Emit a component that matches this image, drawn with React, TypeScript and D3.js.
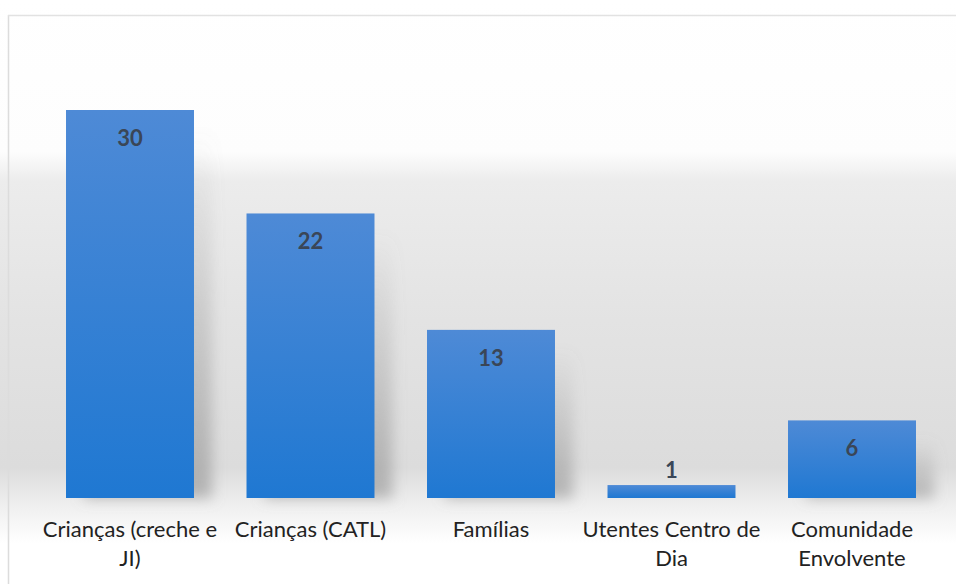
import React from 'react';
import * as d3 from 'd3';

const categories = ['Crianças (creche e JI)', 'Crianças (CATL)', 'Famílias', 'Utentes Centro de Dia', 'Comunidade Envolvente'];
const labelLines = [['Crianças (creche e', 'JI)'], ['Crianças (CATL)'], ['Famílias'], ['Utentes Centro de', 'Dia'], ['Comunidade', 'Envolvente']];
const values = [30, 22, 13, 1, 6];

const W = 956;
const H = 584;
const FONT = 'Lato, "Open Sans", sans-serif';

export default function App() {
  const x = d3.scaleBand<string>()
    .domain(categories)
    .range([39.75, 942.25])
    .paddingInner(0.291)
    .paddingOuter(0.1455);
  const y = d3.scaleLinear().domain([0, 30]).range([498, 110]);
  const bw = x.bandwidth();

  return (
    <svg width={W} height={H} style={{position: 'absolute', left: 0, top: 0}}>
      <defs>
        <linearGradient id="bg" x1="0" y1="0" x2="0" y2="1">
          <stop offset="0" stopColor="#ffffff"/>
          <stop offset="0.26" stopColor="#fdfdfd"/>
          <stop offset="0.31" stopColor="#ececec"/>
          <stop offset="0.55" stopColor="#e3e3e3"/>
          <stop offset="0.8" stopColor="#dcdcdc"/>
          <stop offset="0.87" stopColor="#f0f0f0"/>
          <stop offset="0.93" stopColor="#ffffff"/>
          <stop offset="1" stopColor="#ffffff"/>
        </linearGradient>
        <linearGradient id="bar" x1="0" y1="0" x2="0" y2="1">
          <stop offset="0" stopColor="#4e8ad6"/>
          <stop offset="1" stopColor="#1f78d2"/>
        </linearGradient>
        <linearGradient id="shade" x1="0" y1="0" x2="0" y2="1">
          <stop offset="0" stopColor="#8f8f8f" stopOpacity="0"/>
          <stop offset="0.6" stopColor="#8f8f8f" stopOpacity="0.35"/>
          <stop offset="1" stopColor="#8f8f8f" stopOpacity="0.6"/>
        </linearGradient>
        <filter id="blur" x="-50%" y="-50%" width="200%" height="200%">
          <feGaussianBlur stdDeviation="7"/>
        </filter>
      </defs>

      <rect x={0} y={0} width={W} height={H} fill="url(#bg)"/>

      {/* soft shadows behind bars */}
      <g filter="url(#blur)">
        {values.map((v, i) => (
          <rect key={i}
            x={x(categories[i])! + 18}
            y={y(v) + 20}
            width={bw}
            height={Math.max(0, y(0) - y(v) - 20)}
            fill="url(#shade)"/>
        ))}
      </g>

      {/* frame */}
      <line x1={8.5} y1={15} x2={8.5} y2={H} stroke="#dcdcdc" strokeWidth={1.5}/>
      <line x1={8} y1={15.5} x2={W} y2={15.5} stroke="#e2e2e2" strokeWidth={1.5}/>

      <g className="bars">
        {values.map((v, i) => (
          <rect key={i}
            x={x(categories[i])}
            y={y(v)}
            width={bw}
            height={y(0) - y(v)}
            fill="url(#bar)"/>
        ))}
      </g>

      <g className="values" fontFamily={FONT} fontWeight="bold" fontSize={22} fill="#3a4657" textAnchor="middle">
        {values.map((v, i) => {
          const inside = y(0) - y(v) > 40;
          return (
            <text key={i}
              x={x(categories[i])! + bw / 2}
              y={inside ? y(v) + 36 : y(v) - 7}>
              {v}
            </text>
          );
        })}
      </g>

      <g className="labels" fontFamily={FONT} fontSize={22} fill="#222" textAnchor="middle">
        {labelLines.map((lines, i) => (
          <text key={i} x={x(categories[i])! + bw / 2} y={537}>
            {lines.map((l, j) => (
              <tspan key={j} x={x(categories[i])! + bw / 2} dy={j === 0 ? 0 : 29}>{l}</tspan>
            ))}
          </text>
        ))}
      </g>
    </svg>
  );
}
